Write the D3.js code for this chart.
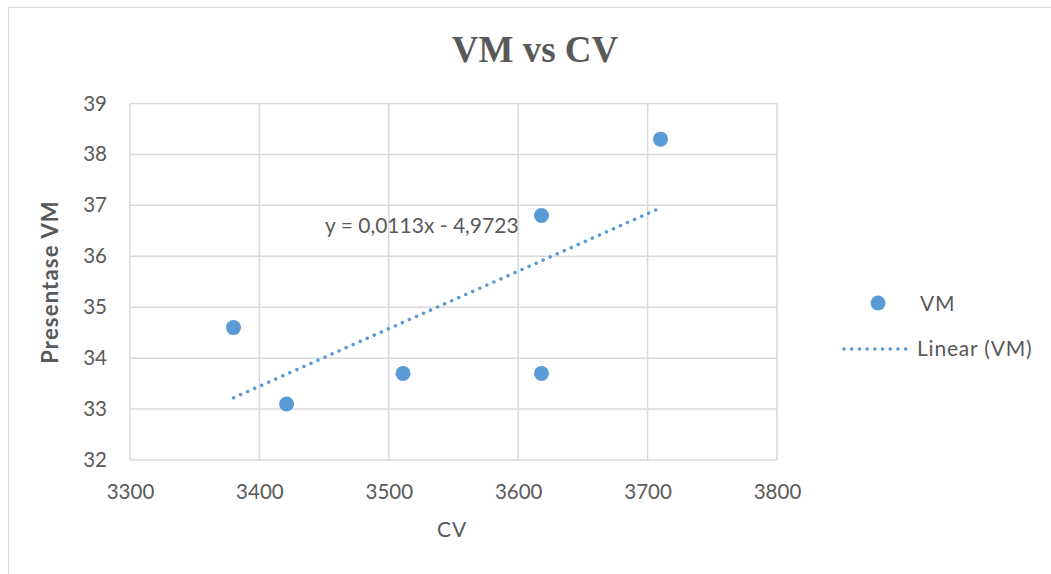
<!DOCTYPE html>
<html>
<head>
<meta charset="utf-8">
<script src="https://cdn.jsdelivr.net/npm/d3@7"></script>
<style>
  body { margin: 0; background: #fff; }
  text { font-family: Lato, "Open Sans", sans-serif; fill: #595959; }
</style>
</head>
<body>
<script>
const cv = [3380, 3421, 3511, 3618, 3618, 3710];
const vm = [34.6, 33.1, 33.7, 36.8, 33.7, 38.3];
const xTicks = [3300, 3400, 3500, 3600, 3700, 3800];
const yTicks = [32, 33, 34, 35, 36, 37, 38, 39];
const slope = 0.0113, intercept = -4.9723;
const trendLabel = "y = 0,0113x - 4,9723";

const W = 1051, H = 574;
const margin = { top: 103.5, right: 274, bottom: 114, left: 130 };

const svg = d3.select("body").append("svg")
    .attr("width", W)
    .attr("height", H);

// chart border
svg.append("rect")
    .attr("x", 8.5).attr("y", 7.5)
    .attr("width", W + 10).attr("height", H + 10)
    .attr("fill", "none").attr("stroke", "#d9d9d9").attr("stroke-width", 1);

const x = d3.scaleLinear().domain([3300, 3800]).range([margin.left, W - margin.right]);
const y = d3.scaleLinear().domain([32, 39]).range([H - margin.bottom, margin.top]);

// gridlines
svg.append("g")
  .selectAll("line")
  .data(xTicks)
  .join("line")
    .attr("x1", d => x(d)).attr("x2", d => x(d))
    .attr("y1", y(39)).attr("y2", y(32))
    .attr("stroke", "#d9d9d9").attr("stroke-width", 1.5);

svg.append("g")
  .selectAll("line")
  .data(yTicks)
  .join("line")
    .attr("x1", x(3300)).attr("x2", x(3800))
    .attr("y1", d => y(d)).attr("y2", d => y(d))
    .attr("stroke", "#d9d9d9").attr("stroke-width", 1.5);

// axes (labels only)
const xAxis = svg.append("g")
    .attr("transform", `translate(0,${y(32)})`)
    .call(d3.axisBottom(x).tickValues(xTicks).tickSize(0).tickPadding(24).tickFormat(d3.format("d")));
const yAxis = svg.append("g")
    .attr("transform", `translate(${x(3300)},0)`)
    .call(d3.axisLeft(y).tickValues(yTicks).tickSize(0).tickPadding(23).tickFormat(d3.format("d")));
[xAxis, yAxis].forEach(g => {
  g.select(".domain").remove();
  g.selectAll("text")
    .style("font-family", "Lato, sans-serif")
    .style("font-size", "20.5px")
    .attr("fill", "#595959");
});

// trendline
const xs = [d3.min(cv), d3.max(cv)];
svg.append("line")
    .attr("x1", x(xs[0])).attr("y1", y(slope * xs[0] + intercept))
    .attr("x2", x(xs[1])).attr("y2", y(slope * xs[1] + intercept))
    .attr("stroke", "#5b9bd5")
    .attr("stroke-width", 3.5)
    .attr("stroke-linecap", "round")
    .attr("stroke-dasharray", "0.1 7.6");

// points
svg.append("g")
  .selectAll("circle")
  .data(cv.map((c, i) => ({ c, v: vm[i] })))
  .join("circle")
    .attr("cx", d => x(d.c))
    .attr("cy", d => y(d.v))
    .attr("r", 7.5)
    .attr("fill", "#5b9bd5");

// trend equation
svg.append("text")
    .attr("x", 325).attr("y", 233)
    .style("font-size", "21px")
    .text(trendLabel);

// title
svg.append("text")
    .attr("x", 535).attr("y", 62)
    .attr("text-anchor", "middle")
    .style("font-family", "'Liberation Serif', 'Times New Roman', serif")
    .style("font-weight", "bold")
    .style("font-size", "37px")
    .text("VM vs CV");

// axis titles
svg.append("text")
    .attr("x", 452).attr("y", 537)
    .attr("text-anchor", "middle")
    .style("font-size", "21px")
    .style("letter-spacing", "1px")
    .text("CV");

svg.append("text")
    .attr("transform", "translate(58,282) rotate(-90)")
    .attr("text-anchor", "middle")
    .style("font-size", "22px")
    .style("font-weight", "bold")
    .style("letter-spacing", "1.2px")
    .text("Presentase VM");

// legend
const legend = svg.append("g");
legend.append("circle")
    .attr("cx", 878).attr("cy", 303).attr("r", 7.5)
    .attr("fill", "#5b9bd5");
legend.append("text")
    .attr("x", 920).attr("y", 311)
    .style("font-size", "21px")
    .style("letter-spacing", "0.8px")
    .text("VM");
legend.append("line")
    .attr("x1", 844).attr("x2", 912)
    .attr("y1", 349).attr("y2", 349)
    .attr("stroke", "#5b9bd5")
    .attr("stroke-width", 3.5)
    .attr("stroke-linecap", "round")
    .attr("stroke-dasharray", "0.1 7.6");
legend.append("text")
    .attr("x", 917).attr("y", 356)
    .style("font-size", "21px")
    .style("letter-spacing", "0.8px")
    .text("Linear (VM)");
</script>
</body>
</html>
